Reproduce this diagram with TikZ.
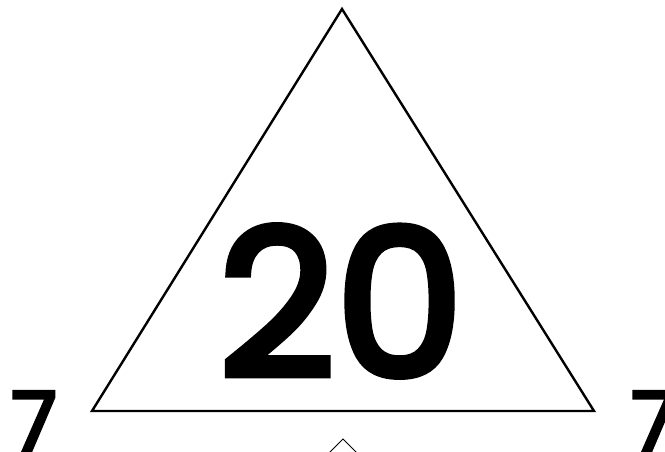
\documentclass[tikz,border=0pt]{standalone}
\usepackage{fontspec}
\setmainfont{Poppins}[FakeBold=3.8]
\begin{document}
\begin{tikzpicture}[x=1pt,y=-1pt,
  tri/.style={draw=black,line width=2.4pt,line join=miter},
  bignum/.style={font=\fontsize{204}{204}\selectfont,inner sep=0pt},
  smallnum/.style={font=\fontsize{84}{84}\selectfont,inner sep=0pt}]
\useasboundingbox (0,0) rectangle (665,452);
\clip (0,0) rectangle (665,452);
\fill[white] (0,0) rectangle (665,452);
\coordinate (A) at (342,9);
\coordinate (B) at (92,411);
\coordinate (C) at (594,411);
\draw[tri] (A) -- (B) -- (C) -- cycle;
\node[bignum,anchor=center] (n20) at (341,301) {20};
\node[smallnum,anchor=base west] (l7) at (11,452) {7};
\node[smallnum,anchor=base west] (r7) at (631,452) {7};
\coordinate (P) at (343,439);
\coordinate (PL) at (327,455);
\coordinate (PR) at (359,455);
\draw[line width=0.9pt] (PL) -- (P) -- (PR);
\end{tikzpicture}
\end{document}
